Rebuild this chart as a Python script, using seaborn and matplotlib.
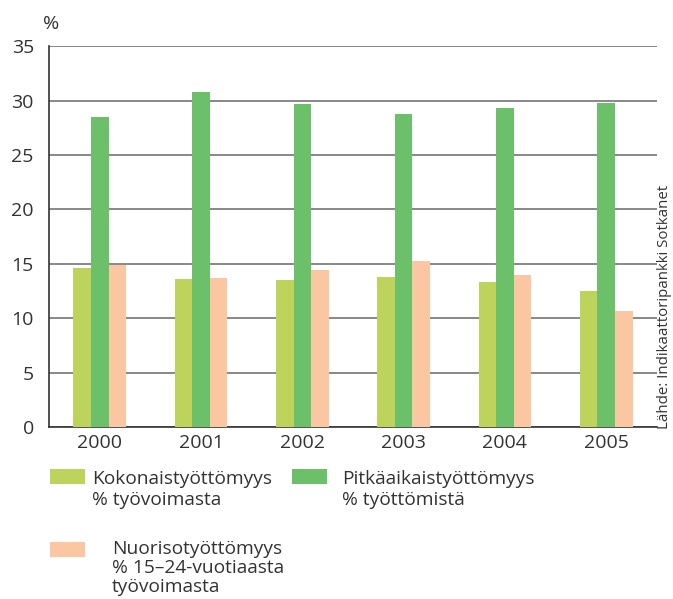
"""Unemployment rates 2000-2005, grouped bar chart."""

import matplotlib
matplotlib.use("Agg")
import matplotlib.pyplot as plt
from matplotlib.patches import Rectangle
import numpy as np
import pandas as pd
import seaborn as sns

years = ["2000", "2001", "2002", "2003", "2004", "2005"]
series_names = [
    "Kokonaistyöttömyys\n% työvoimasta",
    "Pitkäaikaistyöttömyys\n% työttömistä",
    "Nuorisotyöttömyys\n% 15–24-vuotiaasta\ntyövoimasta",
]
total = [14.6, 13.6, 13.5, 13.8, 13.3, 12.5]
long_term = [28.5, 30.8, 29.7, 28.8, 29.3, 29.8]
youth = [14.9, 13.7, 14.4, 15.3, 14.0, 10.7]
colors = ["#BED35B", "#6CC06A", "#FBC6A2"]
source = "Lähde: Indikaattoripankki Sotkanet"

df = pd.DataFrame({
    "year": years * 3,
    "series": [series_names[0]] * 6 + [series_names[1]] * 6 + [series_names[2]] * 6,
    "value": total + long_term + youth,
})

sns.set_theme(style="white")
plt.rcParams["font.family"] = ["Open Sans", "DejaVu Sans"]
text_color = "#333333"

fig = plt.figure(figsize=(6.73, 5.99), dpi=100)
ax = fig.add_axes([0.073, 0.287, 0.903, 0.636])

sns.barplot(data=df, x="year", y="value", hue="series", palette=colors,
            width=0.52, saturation=1, linewidth=0, ax=ax, legend=False, zorder=3)

ax.set_ylim(0, 35)
ax.set_xlim(-0.5, len(years) - 0.5)
ax.set_yticks(np.arange(0, 36, 5))
ax.yaxis.grid(True, color="#747474", linewidth=1.2, zorder=0)
ax.set_axisbelow(True)
ax.set_xlabel("")
ax.set_ylabel("")

for side in ["top", "right"]:
    ax.spines[side].set_visible(False)
for side in ["left", "bottom"]:
    ax.spines[side].set_color("#333333")
    ax.spines[side].set_linewidth(1.2)

ax.tick_params(axis="y", length=9, width=1.2, color="#333333",
               labelsize=14, labelcolor=text_color, pad=2)
ax.tick_params(axis="x", which="major", length=0, labelsize=14,
               labelcolor=text_color, pad=5)
ax.set_xticks(np.arange(-0.5, len(years), 1.0), minor=True)
ax.tick_params(axis="x", which="minor", length=10, width=1.2, color="#555555")

fig.text(0.064, 0.960, "%", fontsize=14, color=text_color, ha="left", va="center")
fig.text(0.988, 0.283, source, rotation=90, fontsize=10.8, color=text_color,
         ha="center", va="bottom")

# legend drawn by hand to follow the original layout
legend_items = [
    (0.074, 0.192, 0.137, 0.215, 1.2),
    (0.434, 0.192, 0.508, 0.215, 1.2),
    (0.074, 0.070, 0.166, 0.099, 1.1),
]
for (px, py, tx, ty, ls), name, col in zip(legend_items, series_names, colors):
    fig.patches.append(Rectangle((px, py), 0.052, 0.025, transform=fig.transFigure,
                                 facecolor=col, edgecolor="none"))
    fig.text(tx, ty, name, fontsize=13.8, color=text_color,
             ha="left", va="top", linespacing=ls)

fig.savefig("out.png", dpi=100)
